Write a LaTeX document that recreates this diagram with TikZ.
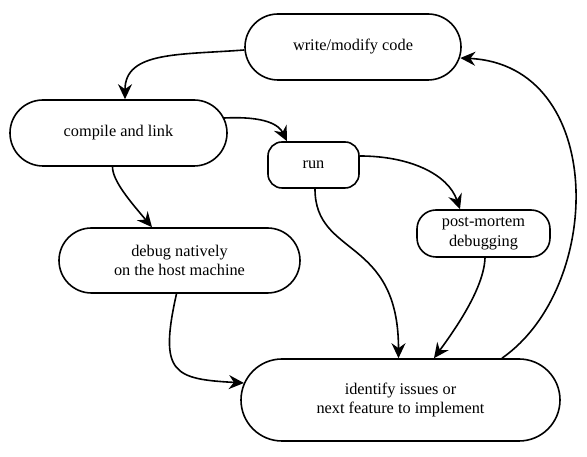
\documentclass[tikz,border=0pt]{standalone}
\usepackage{fontspec}
\setmainfont{Liberation Serif}
\usepackage{tikz}
\usetikzlibrary{arrows.meta,positioning}
\newcommand{\boxfont}{\fontsize{16.3}{19.5}\selectfont}
\tikzset{
  box/.style={rectangle, draw=black, fill=white, line width=1.6pt,
              align=center, inner sep=0pt, font=\boxfont},
  pill/.style={box, rounded corners=#1, minimum height=2*#1},
  tag/.style={box, rounded corners=#1, minimum height=46},
  flow/.style={-{Stealth[length=15pt, width=14pt, inset=5pt]}, draw=black, line width=1.6pt}
}
\begin{document}
\begin{tikzpicture}[x=1pt, y=1pt]
 \useasboundingbox (0,0) rectangle (587,457);
 \node[pill=33, minimum width=216] (wr) at (353,410) {write/modify code};
 \node[pill=33, minimum width=217] (cl) at (118.5,324) {compile and link};
 \node[tag=14, minimum width=91] (rn) at (313.5,292) {run};
 \node[pill=32.5, minimum width=241] (dbg) at (179.5,196.5) {debug natively\\on the host machine};
 \node[tag=19, minimum width=133, minimum height=47] (pm) at (483.5,223.5) {post-mortem\\debugging};
 \node[pill=41, minimum width=319] (id) at (400.5,57) {identify issues or\\next feature to implement};
 \draw[flow] ([yshift=-3]wr.west) .. controls +(-65,-5) and +(0,48) .. ([xshift=6.5]cl.north);
 \draw[flow] ([xshift=-3.6,yshift=15]cl.east) .. controls +(42,2) and +(-8,16) .. ([xshift=-26.5]rn.north);
 \draw[flow] ([xshift=-6]cl.south) .. controls +(0,-14) and +(-22,26) .. ([xshift=-27.5]dbg.north);
 \draw[flow] ([yshift=9]rn.east) .. controls +(50,0) and +(-12,35) .. ([xshift=-23.5]pm.north);
 \draw[flow] ([xshift=1.5]rn.south) .. controls +(0,-69) and +(0,122) .. ([xshift=-2]id.north);
 \draw[flow] ([xshift=1.5]pm.south) .. controls +(-1,-30) and +(22,30) .. ([xshift=33.5]id.north);
 \draw[flow] ([xshift=-3]dbg.south) .. controls +(-18,-80) and +(-70,4) .. ([xshift=3.7,yshift=17]id.west);
 \draw[flow] ([xshift=101.5]id.north) .. controls +(103,72) and +(146,-7) .. ([xshift=-1.5,yshift=-11]wr.east);
\end{tikzpicture}
\end{document}
